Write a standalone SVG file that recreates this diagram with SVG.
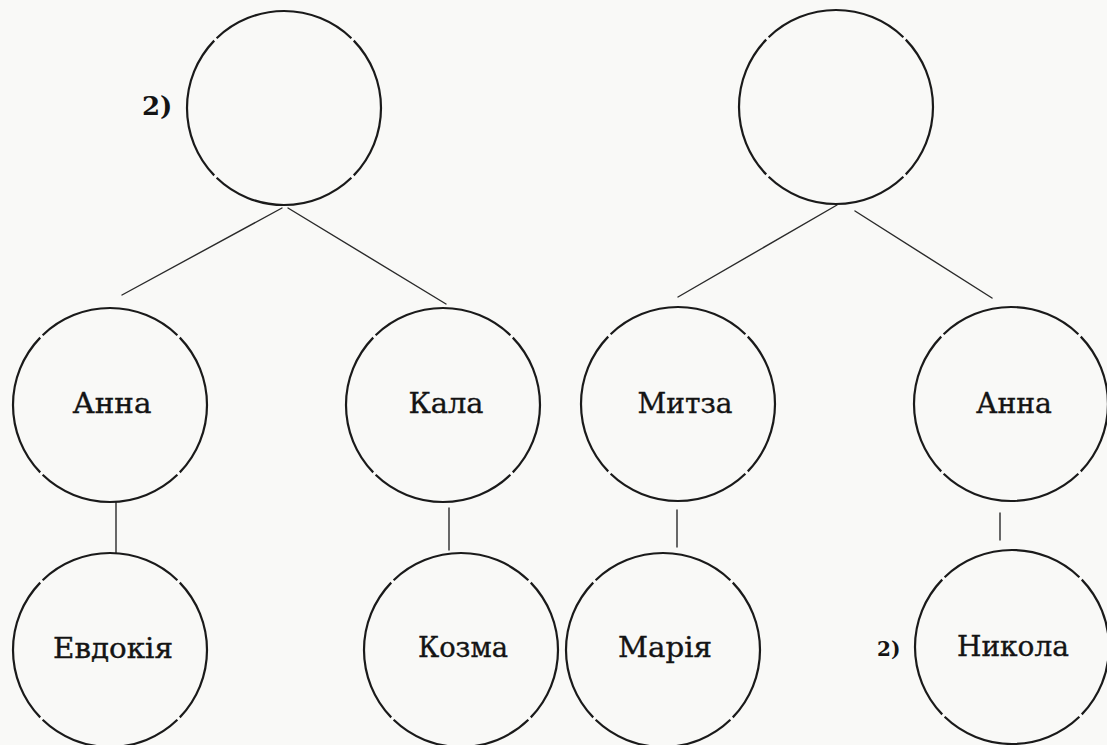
<svg xmlns="http://www.w3.org/2000/svg" width="1107" height="745" viewBox="0 0 1107 745">
<style>
.bg{fill:#f9f9f7}
.node circle{fill:none;stroke:#1a1a1a;stroke-width:2.2;stroke-dasharray:88 2;stroke-dashoffset:44}
.edges line{stroke:#2a2a2a;stroke-width:1.4;stroke-linecap:round}
.name{font-family:"DejaVu Serif","Liberation Serif",serif;font-size:28px;fill:#141414;stroke:#141414;stroke-width:0.35;text-anchor:middle}
.mark{font-family:"DejaVu Serif","Liberation Serif",serif;font-weight:bold;fill:#141414}
</style>
<rect class="bg" x="0" y="0" width="1107" height="745"/>
<g id="edges" class="edges">
<line x1="282" y1="208" x2="122" y2="295"/>
<line x1="288" y1="208" x2="446" y2="304"/>
<line x1="837" y1="205" x2="678" y2="297"/>
<line x1="855" y1="211" x2="992" y2="298"/>
<line x1="116" y1="502" x2="116" y2="553"/>
<line x1="449" y1="508" x2="449" y2="550"/>
<line x1="677" y1="510" x2="677" y2="547"/>
<line x1="1000" y1="513" x2="1000" y2="540"/>
</g>
<g id="root-left" class="node">
<circle cx="284" cy="108" r="97" pathLength="360"/>
<text class="mark" x="142" y="115" font-size="26">2)</text>
</g>
<g id="root-right" class="node">
<circle cx="836" cy="107" r="97" pathLength="360"/>
</g>
<g id="anna-left" class="node">
<circle cx="110" cy="405" r="97" pathLength="360"/>
<text class="name" x="112" y="413" textLength="79" lengthAdjust="spacingAndGlyphs">Анна</text>
</g>
<g id="kala" class="node">
<circle cx="443" cy="405" r="97" pathLength="360"/>
<text class="name" x="446" y="413" textLength="75" lengthAdjust="spacingAndGlyphs">Кала</text>
</g>
<g id="mitza" class="node">
<circle cx="678" cy="404" r="97" pathLength="360"/>
<text class="name" x="685" y="413" textLength="95" lengthAdjust="spacingAndGlyphs">Митза</text>
</g>
<g id="anna-right" class="node">
<circle cx="1011" cy="404" r="97" pathLength="360"/>
<text class="name" x="1014" y="413" textLength="76" lengthAdjust="spacingAndGlyphs">Анна</text>
</g>
<g id="evdokia" class="node">
<circle cx="110" cy="650" r="97" pathLength="360"/>
<text class="name" x="113" y="658" textLength="120" lengthAdjust="spacingAndGlyphs">Евдокія</text>
</g>
<g id="kozma" class="node">
<circle cx="461" cy="650" r="97" pathLength="360"/>
<text class="name" x="463" y="657" textLength="90" lengthAdjust="spacingAndGlyphs">Козма</text>
</g>
<g id="maria" class="node">
<circle cx="663" cy="650" r="97" pathLength="360"/>
<text class="name" x="665" y="657" textLength="94" lengthAdjust="spacingAndGlyphs">Марія</text>
</g>
<g id="nikola" class="node">
<circle cx="1012" cy="647" r="97" pathLength="360"/>
<text class="name" x="1013" y="656" textLength="112" lengthAdjust="spacingAndGlyphs">Никола</text>
<text class="mark" x="877" y="656" font-size="20">2)</text>
</g>
</svg>
